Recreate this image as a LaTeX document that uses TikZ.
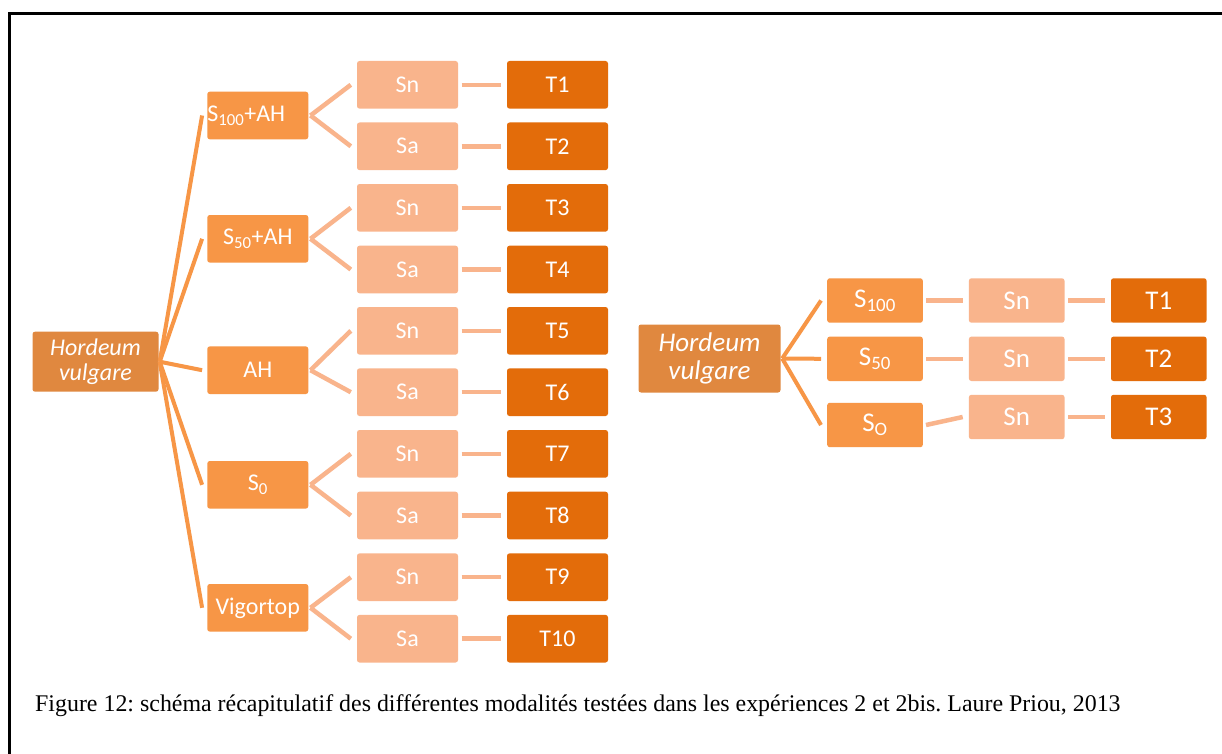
\documentclass[tikz,border=0pt]{standalone}
\usepackage{fontspec}
\setmainfont{Carlito}
\newfontfamily\capfont{Liberation Serif}
\definecolor{hcol}{HTML}{E0883F}
\definecolor{scol}{HTML}{F79646}
\definecolor{ncol}{HTML}{F9B48C}
\definecolor{tcol}{HTML}{E36C0A}
\begin{document}
\frenchspacing
\begin{tikzpicture}[x=1pt,y=-1pt,
  box/.style={rectangle, rounded corners=2.5pt, inner sep=0pt, text=white, align=center},
  lfont/.style={font=\fontsize{24}{25.7}\selectfont},
  rfont/.style={font=\fontsize{27}{28.3}\selectfont},
  hbox/.style={box, fill=hcol},
  sbox/.style={box, fill=scol},
  nbox/.style={box, fill=ncol},
  tbox/.style={box, fill=tcol},
  lsize/.style={minimum width=101pt, minimum height=47.6pt},
  rsize/.style={minimum width=95.6pt, minimum height=44.4pt},
  fan/.style={draw=scol, line width=4pt},
  lt/.style={draw=ncol, line width=4.5pt}]
\useasboundingbox (0,0) rectangle (1222,754);
\fill[white] (0,0) rectangle (1222,754);
% frame
\draw[line width=3pt] (9,754) -- (9,14) -- (1222,14);
% ---- left diagram ----
\node[hbox, lfont, minimum width=126pt, minimum height=60pt] (h) at (95.5,361.7) {\textit{Hordeum}\\\textit{vulgare}};
\node[sbox, lfont, lsize, text width=101pt, align=left] (s1) at (257.8,115.5) {S\textsubscript{100}+AH};
\node[sbox, lfont, lsize] (s2) at (257.8,238.8) {S\textsubscript{50}+AH};
\node[sbox, lfont, lsize] (s3) at (257.8,370.2) {AH};
\node[sbox, lfont, lsize] (s4) at (257.8,484.8) {S\textsubscript{0}};
\node[sbox, lfont, lsize] (s5) at (257.8,607.8) {Vigortop};
\foreach \i/\y/\l in {1/84.8/Sn, 2/146.3/Sa, 3/207.8/Sn, 4/269.5/Sa, 5/330.8/Sn, 6/392.2/Sa, 7/453.8/Sn, 8/515.5/Sa, 9/577.2/Sn, 10/638.7/Sa}{
  \node[nbox, lfont, lsize] (n\i) at (407.5,\y) {\l};
  \node[tbox, lfont, lsize] (t\i) at (557.5,\y) {T\i};
  \draw[lt] ([xshift=3.5pt]n\i.east) -- ([xshift=-5.5pt]t\i.west);
}
\foreach \p/\a/\b in {1/1/2, 2/3/4, 3/5/6, 4/7/8, 5/9/10}{
  \draw[lt] ([xshift=2pt]s\p.east) -- ([xshift=-6pt]n\a.west);
  \draw[lt] ([xshift=2pt]s\p.east) -- ([xshift=-6pt]n\b.west);
  \draw[fan] ([xshift=1pt]h.east) -- ([xshift=-5pt]s\p.west);
}
% ---- right diagram ----
\node[hbox, rfont, minimum width=142pt, minimum height=68pt] (hr) at (709.5,358.5) {\textit{Hordeum}\\\textit{vulgare}};
\node[sbox, rfont, rsize] (r1) at (875,300.5) {S\textsubscript{100}};
\node[sbox, rfont, rsize] (r2) at (875,358.8) {S\textsubscript{50}};
\node[sbox, rfont, rsize] (r3) at (875,425) {S\textsubscript{O}};
\foreach \i/\y in {1/300.5, 2/358.8, 3/417}{
  \node[nbox, rfont, rsize] (rn\i) at (1016.7,\y) {Sn};
  \node[tbox, rfont, rsize] (rt\i) at (1158.8,\y) {T\i};
  \draw[lt] ([xshift=3.5pt]rn\i.east) -- ([xshift=-5.5pt]rt\i.west);
  \draw[lt] ([xshift=3pt]r\i.east) -- ([xshift=-6pt]rn\i.west);
  \draw[fan] ([xshift=1.5pt]hr.east) -- ([xshift=-6pt]r\i.west);
}
% caption
\node[anchor=base west, inner sep=0pt, font=\capfont\fontsize{23.9}{28}\selectfont] (cap) at (35,711) {Figure 12: schéma récapitulatif des différentes modalités testées dans les expériences 2 et 2bis. Laure Priou, 2013};
\end{tikzpicture}
\end{document}
